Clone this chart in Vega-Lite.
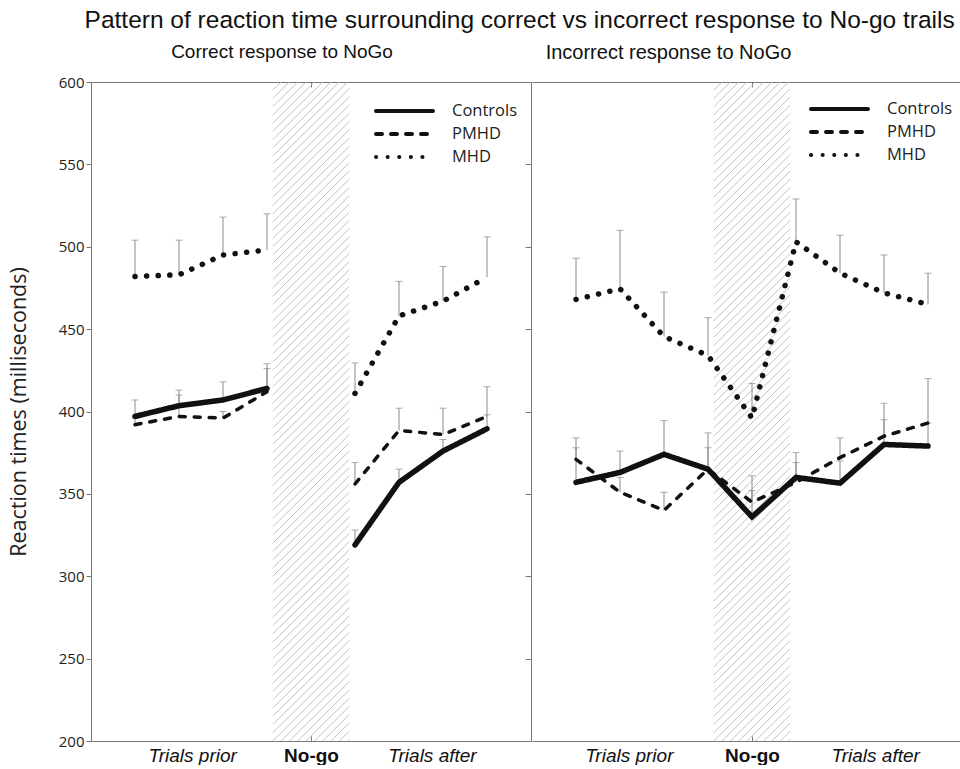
{
  "$schema": "https://vega.github.io/schema/vega-lite/v6.json",
  "padding": {"left": 8, "top": 8, "right": 0, "bottom": 0},
  "background": "white",
  "config": {"view": {"stroke": null}, "font": "Liberation Sans"},
  "title": {"text": "Pattern of reaction time surrounding correct vs incorrect response to No-go trails", "font": "Liberation Sans", "fontSize": 24.5, "fontWeight": "normal", "color": "#111", "anchor": "middle", "offset": 9, "dx": 35},
  "datasets": {
    "main": [
      {"panel": "L", "group": "Controls", "seg": "a", "slot": 1, "v": 397, "up": 407},
      {"panel": "L", "group": "Controls", "seg": "a", "slot": 2, "v": 403.5, "up": 413},
      {"panel": "L", "group": "Controls", "seg": "a", "slot": 3, "v": 407, "up": 418},
      {"panel": "L", "group": "Controls", "seg": "a", "slot": 4, "v": 414, "up": 429},
      {"panel": "L", "group": "Controls", "seg": "b", "slot": 6, "v": 319, "up": 328},
      {"panel": "L", "group": "Controls", "seg": "b", "slot": 7, "v": 357, "up": 365},
      {"panel": "L", "group": "Controls", "seg": "b", "slot": 8, "v": 376, "up": 383},
      {"panel": "L", "group": "Controls", "seg": "b", "slot": 9, "v": 389.5, "up": 398},
      {"panel": "L", "group": "PMHD", "seg": "a", "slot": 1, "v": 392, "up": 396},
      {"panel": "L", "group": "PMHD", "seg": "a", "slot": 2, "v": 397, "up": 410},
      {"panel": "L", "group": "PMHD", "seg": "a", "slot": 3, "v": 396, "up": 400},
      {"panel": "L", "group": "PMHD", "seg": "a", "slot": 4, "v": 412, "up": 426},
      {"panel": "L", "group": "PMHD", "seg": "b", "slot": 6, "v": 356, "up": 369},
      {"panel": "L", "group": "PMHD", "seg": "b", "slot": 7, "v": 388.5, "up": 402},
      {"panel": "L", "group": "PMHD", "seg": "b", "slot": 8, "v": 386, "up": 402},
      {"panel": "L", "group": "PMHD", "seg": "b", "slot": 9, "v": 397, "up": 415},
      {"panel": "L", "group": "MHD", "seg": "a", "slot": 1, "v": 482, "up": 504},
      {"panel": "L", "group": "MHD", "seg": "a", "slot": 2, "v": 483, "up": 504},
      {"panel": "L", "group": "MHD", "seg": "a", "slot": 3, "v": 495, "up": 518},
      {"panel": "L", "group": "MHD", "seg": "a", "slot": 4, "v": 498, "up": 520},
      {"panel": "L", "group": "MHD", "seg": "b", "slot": 6, "v": 411, "up": 429.5},
      {"panel": "L", "group": "MHD", "seg": "b", "slot": 7, "v": 458, "up": 479},
      {"panel": "L", "group": "MHD", "seg": "b", "slot": 8, "v": 467, "up": 488},
      {"panel": "L", "group": "MHD", "seg": "b", "slot": 9, "v": 481.5, "up": 506},
      {"panel": "R", "group": "Controls", "seg": "a", "slot": 1, "v": 357, "up": 384},
      {"panel": "R", "group": "Controls", "seg": "a", "slot": 2, "v": 363, "up": 376},
      {"panel": "R", "group": "Controls", "seg": "a", "slot": 3, "v": 374, "up": 394.5},
      {"panel": "R", "group": "Controls", "seg": "a", "slot": 4, "v": 365, "up": 387},
      {"panel": "R", "group": "Controls", "seg": "a", "slot": 5, "v": 336, "up": 361},
      {"panel": "R", "group": "Controls", "seg": "a", "slot": 6, "v": 360, "up": 375},
      {"panel": "R", "group": "Controls", "seg": "a", "slot": 7, "v": 356.5, "up": 370},
      {"panel": "R", "group": "Controls", "seg": "a", "slot": 8, "v": 380, "up": 405},
      {"panel": "R", "group": "Controls", "seg": "a", "slot": 9, "v": 379, "up": 393},
      {"panel": "R", "group": "PMHD", "seg": "a", "slot": 1, "v": 371, "up": 378},
      {"panel": "R", "group": "PMHD", "seg": "a", "slot": 2, "v": 351, "up": 360},
      {"panel": "R", "group": "PMHD", "seg": "a", "slot": 3, "v": 340, "up": 351},
      {"panel": "R", "group": "PMHD", "seg": "a", "slot": 4, "v": 365, "up": 378},
      {"panel": "R", "group": "PMHD", "seg": "a", "slot": 5, "v": 345, "up": 352},
      {"panel": "R", "group": "PMHD", "seg": "a", "slot": 6, "v": 357, "up": 369},
      {"panel": "R", "group": "PMHD", "seg": "a", "slot": 7, "v": 372, "up": 384},
      {"panel": "R", "group": "PMHD", "seg": "a", "slot": 8, "v": 385, "up": 395},
      {"panel": "R", "group": "PMHD", "seg": "a", "slot": 9, "v": 393, "up": 420},
      {"panel": "R", "group": "MHD", "seg": "a", "slot": 1, "v": 468, "up": 493},
      {"panel": "R", "group": "MHD", "seg": "a", "slot": 2, "v": 474.5, "up": 510},
      {"panel": "R", "group": "MHD", "seg": "a", "slot": 3, "v": 445.5, "up": 472.5},
      {"panel": "R", "group": "MHD", "seg": "a", "slot": 4, "v": 434, "up": 457},
      {"panel": "R", "group": "MHD", "seg": "a", "slot": 5, "v": 396, "up": 417},
      {"panel": "R", "group": "MHD", "seg": "a", "slot": 6, "v": 503, "up": 529},
      {"panel": "R", "group": "MHD", "seg": "a", "slot": 7, "v": 484, "up": 507},
      {"panel": "R", "group": "MHD", "seg": "a", "slot": 8, "v": 472, "up": 495},
      {"panel": "R", "group": "MHD", "seg": "a", "slot": 9, "v": 465, "up": 484}
    ],
    "hatch": [
      {"h":150,"h2":196},{"h":155,"h2":201},{"h":160,"h2":206},{"h":165,"h2":211},{"h":170,"h2":216},{"h":175,"h2":221},{"h":180,"h2":226},{"h":185,"h2":231},{"h":190,"h2":236},{"h":195,"h2":241},{"h":200,"h2":246},{"h":205,"h2":251},{"h":210,"h2":256},{"h":215,"h2":261},{"h":220,"h2":266},{"h":225,"h2":271},{"h":230,"h2":276},{"h":235,"h2":281},{"h":240,"h2":286},{"h":245,"h2":291},{"h":250,"h2":296},{"h":255,"h2":301},{"h":260,"h2":306},{"h":265,"h2":311},{"h":270,"h2":316},{"h":275,"h2":321},{"h":280,"h2":326},{"h":285,"h2":331},{"h":290,"h2":336},{"h":295,"h2":341},{"h":300,"h2":346},{"h":305,"h2":351},{"h":310,"h2":356},{"h":315,"h2":361},{"h":320,"h2":366},{"h":325,"h2":371},{"h":330,"h2":376},{"h":335,"h2":381},{"h":340,"h2":386},{"h":345,"h2":391},{"h":350,"h2":396},{"h":355,"h2":401},{"h":360,"h2":406},{"h":365,"h2":411},{"h":370,"h2":416},{"h":375,"h2":421},{"h":380,"h2":426},{"h":385,"h2":431},{"h":390,"h2":436},{"h":395,"h2":441},{"h":400,"h2":446},{"h":405,"h2":451},{"h":410,"h2":456},{"h":415,"h2":461},{"h":420,"h2":466},{"h":425,"h2":471},{"h":430,"h2":476},{"h":435,"h2":481},{"h":440,"h2":486},{"h":445,"h2":491},{"h":450,"h2":496},{"h":455,"h2":501},{"h":460,"h2":506},{"h":465,"h2":511},{"h":470,"h2":516},{"h":475,"h2":521},{"h":480,"h2":526},{"h":485,"h2":531},{"h":490,"h2":536},{"h":495,"h2":541},{"h":500,"h2":546},{"h":505,"h2":551},{"h":510,"h2":556},{"h":515,"h2":561},{"h":520,"h2":566},{"h":525,"h2":571},{"h":530,"h2":576},{"h":535,"h2":581},{"h":540,"h2":586},{"h":545,"h2":591},{"h":550,"h2":596},{"h":555,"h2":601},{"h":560,"h2":606},{"h":565,"h2":611},{"h":570,"h2":616},{"h":575,"h2":621},{"h":580,"h2":626},{"h":585,"h2":631},{"h":590,"h2":636},{"h":595,"h2":641},{"h":600,"h2":646}
    ]
  },
  "spacing": 0,
  "resolve": {"legend": {"strokeDash": "independent"}, "scale": {"x": "independent", "y": "independent"}},
  "hconcat": [
    {
      "width": 440,
      "height": 659,
      "title": {"text": "Correct response to NoGo", "font": "Liberation Sans", "fontSize": 19, "fontWeight": "normal", "color": "#111", "frame": "group", "anchor": "middle", "dx": -29, "offset": 13},
      "resolve": {"axis": {"x": "independent", "y": "independent"}},
      "layer": [
        {
          "data": {"name": "hatch"},
          "mark": {"type": "rule", "clip": true, "color": "#c2c2c2", "strokeWidth": 1},
          "encoding": {
            "x": {"datum": 4.13, "type": "quantitative", "scale": {"domain": [0, 10], "nice": false}, "axis": null},
            "x2": {"datum": 5.87},
            "y": {"field": "h", "type": "quantitative", "scale": {"domain": [200, 600], "nice": false}, "axis": null},
            "y2": {"field": "h2"}
          }
        },
        {
          "data": {"name": "main"},
          "transform": [{"filter": "datum.panel == 'L'"}],
          "mark": {"type": "rule", "color": "#8a8a8a", "strokeWidth": 1},
          "encoding": {
            "x": {"field": "slot", "type": "quantitative", "scale": {"domain": [0, 10], "nice": false},
                  "axis": {"orient": "top", "values": [5], "labels": false, "title": null, "tickSize": -5, "tickColor": "#777", "domainColor": "#777", "grid": false}},
            "y": {"field": "v", "type": "quantitative", "scale": {"domain": [200, 600], "nice": false},
                  "axis": {"orient": "right", "values": [250, 300, 350, 400, 450, 500, 550], "labels": false, "title": null, "tickSize": -6, "tickColor": "#777", "domainColor": "#777", "grid": false}},
            "y2": {"field": "up"}
          }
        },
        {
          "data": {"name": "main"},
          "transform": [{"filter": "datum.panel == 'L'"}],
          "mark": {"type": "tick", "orient": "horizontal", "color": "#8a8a8a", "size": 7, "thickness": 1},
          "encoding": {
            "x": {"field": "slot", "type": "quantitative", "scale": {"domain": [0, 10], "nice": false}, "axis": null},
            "y": {"field": "up", "type": "quantitative", "scale": {"domain": [200, 600], "nice": false}, "axis": null}
          }
        },
        {
          "data": {"name": "main"},
          "transform": [{"filter": "datum.panel == 'L'"}],
          "mark": {"type": "line", "color": "#111", "strokeCap": "round"},
          "encoding": {
            "x": {"field": "slot", "type": "quantitative", "scale": {"domain": [0, 10], "nice": false},
                  "axis": {"orient": "bottom", "values": [2.3, 5, 7.75], "title": null, "grid": false,
                           "labelExpr": "datum.value == 5 ? 'No-go' : (datum.value < 5 ? 'Trials prior' : 'Trials after')",
                           "labelFont": "Liberation Sans", "labelFontSize": 19, "labelColor": "#111", "labelPadding": 10,
                           "labelFontStyle": {"condition": {"test": "datum.value == 5", "value": "normal"}, "value": "italic"},
                           "labelFontWeight": {"condition": {"test": "datum.value == 5", "value": "bold"}, "value": "normal"},
                           "tickOpacity": {"condition": {"test": "datum.value == 5", "value": 1}, "value": 0},
                           "tickSize": -5, "tickColor": "#777", "domainColor": "#777"}},
            "y": {"field": "v", "type": "quantitative", "scale": {"domain": [200, 600], "nice": false},
                  "axis": {"orient": "left", "values": [200, 250, 300, 350, 400, 450, 500, 550, 600], "grid": false,
                           "title": "Reaction times (milliseconds)", "titleFont": "Open Sans", "titleFontSize": 21.5, "titleFontWeight": "normal", "titleColor": "#222", "titlePadding": 28,
                           "labelFont": "Open Sans", "labelFontSize": 15, "labelColor": "#222", "labelPadding": 2,
                           "tickSize": 5, "tickColor": "#777", "domainColor": "#777"}},
            "detail": {"field": "seg"},
            "strokeDash": {"field": "group", "type": "nominal",
                           "scale": {"domain": ["Controls", "PMHD", "MHD"], "range": [[1, 0], [6, 9], [0.1, 11.5]]},
                           "legend": {"orient": "none", "legendX": 303.5, "legendY": 19, "title": null, "symbolType": "M-3.5625,0H3.5625", "symbolSize": 256, "symbolStrokeWidth": 4, "symbolStrokeColor": "#111",
                                      "labelFont": "Open Sans", "labelFontSize": 16.5, "labelColor": "#222", "labelOffset": 37.5, "rowPadding": 4, "padding": 0,
                                      "encode": {"symbols": {"update": {"strokeCap": {"value": "round"}}}}}},
            "strokeWidth": {"field": "group", "type": "nominal", "scale": {"type": "ordinal", "domain": ["Controls", "PMHD", "MHD"], "range": [5.5, 3.5, 5.5]}, "legend": null}
          }
        }
      ]
    },
    {
      "width": 429,
      "height": 659,
      "title": {"text": "Incorrect response to NoGo", "font": "Liberation Sans", "fontSize": 20, "fontWeight": "normal", "color": "#111", "frame": "group", "anchor": "middle", "dx": -78, "offset": 19},
      "resolve": {"axis": {"x": "independent", "y": "independent"}},
      "layer": [
        {
          "data": {"name": "hatch"},
          "mark": {"type": "rule", "clip": true, "color": "#c2c2c2", "strokeWidth": 1},
          "encoding": {
            "x": {"datum": 4.13, "type": "quantitative", "scale": {"domain": [0, 9.75], "nice": false}, "axis": null},
            "x2": {"datum": 5.87},
            "y": {"field": "h", "type": "quantitative", "scale": {"domain": [200, 600], "nice": false}, "axis": null},
            "y2": {"field": "h2"}
          }
        },
        {
          "data": {"name": "main"},
          "transform": [{"filter": "datum.panel == 'R'"}],
          "mark": {"type": "rule", "color": "#8a8a8a", "strokeWidth": 1},
          "encoding": {
            "x": {"field": "slot", "type": "quantitative", "scale": {"domain": [0, 9.75], "nice": false},
                  "axis": {"orient": "top", "values": [5], "labels": false, "title": null, "tickSize": -5, "tickColor": "#777", "domainColor": "#777", "grid": false}},
            "y": {"field": "v", "type": "quantitative", "scale": {"domain": [200, 600], "nice": false}, "axis": null},
            "y2": {"field": "up"}
          }
        },
        {
          "data": {"name": "main"},
          "transform": [{"filter": "datum.panel == 'R'"}],
          "mark": {"type": "tick", "orient": "horizontal", "color": "#8a8a8a", "size": 7, "thickness": 1},
          "encoding": {
            "x": {"field": "slot", "type": "quantitative", "scale": {"domain": [0, 9.75], "nice": false}, "axis": null},
            "y": {"field": "up", "type": "quantitative", "scale": {"domain": [200, 600], "nice": false}, "axis": null}
          }
        },
        {
          "data": {"name": "main"},
          "transform": [{"filter": "datum.panel == 'R'"}],
          "mark": {"type": "line", "color": "#111", "strokeCap": "round"},
          "encoding": {
            "x": {"field": "slot", "type": "quantitative", "scale": {"domain": [0, 9.75], "nice": false},
                  "axis": {"orient": "bottom", "values": [2.2, 5, 7.8], "title": null, "grid": false,
                           "labelExpr": "datum.value == 5 ? 'No-go' : (datum.value < 5 ? 'Trials prior' : 'Trials after')",
                           "labelFont": "Liberation Sans", "labelFontSize": 19, "labelColor": "#111", "labelPadding": 10,
                           "labelFontStyle": {"condition": {"test": "datum.value == 5", "value": "normal"}, "value": "italic"},
                           "labelFontWeight": {"condition": {"test": "datum.value == 5", "value": "bold"}, "value": "normal"},
                           "tickOpacity": {"condition": {"test": "datum.value == 5", "value": 1}, "value": 0},
                           "tickSize": -5, "tickColor": "#777", "domainColor": "#777"}},
            "y": {"field": "v", "type": "quantitative", "scale": {"domain": [200, 600], "nice": false}, "axis": null},
            "detail": {"field": "seg"},
            "strokeDash": {"field": "group", "type": "nominal",
                           "scale": {"domain": ["Controls", "PMHD", "MHD"], "range": [[1, 0], [6, 9], [0.1, 11.5]]},
                           "legend": {"orient": "none", "legendX": 297.5, "legendY": 17, "title": null, "symbolType": "M-3.5625,0H3.5625", "symbolSize": 256, "symbolStrokeWidth": 4, "symbolStrokeColor": "#111",
                                      "labelFont": "Open Sans", "labelFontSize": 16.5, "labelColor": "#222", "labelOffset": 37.5, "rowPadding": 4, "padding": 0,
                                      "encode": {"symbols": {"update": {"strokeCap": {"value": "round"}}}}}},
            "strokeWidth": {"field": "group", "type": "nominal", "scale": {"type": "ordinal", "domain": ["Controls", "PMHD", "MHD"], "range": [5.5, 3.5, 5.5]}, "legend": null}
          }
        }
      ]
    }
  ]
}
